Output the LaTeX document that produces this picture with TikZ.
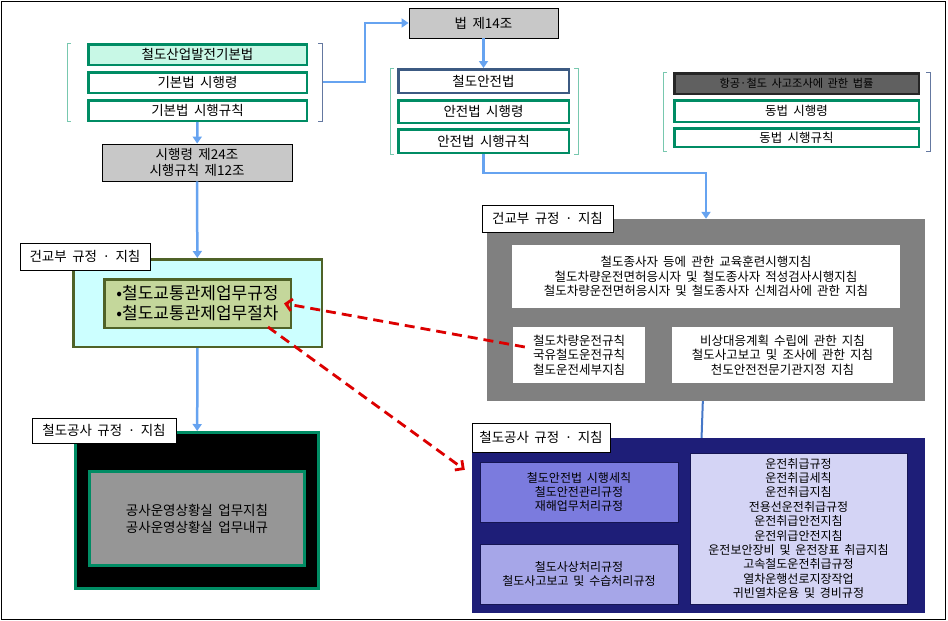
\documentclass[tikz,border=0pt]{standalone}
\usepackage{fontspec}
\setmainfont[WordSpace=1.8]{Noto Sans CJK KR}
\usetikzlibrary{arrows.meta,positioning}
\definecolor{lawgreen}{RGB}{0,140,100}
\definecolor{lawaqua}{RGB}{200,248,230}
\definecolor{lawsteel}{RGB}{60,90,130}
\definecolor{flowblue}{RGB}{102,163,240}
\definecolor{linkblue}{RGB}{70,120,200}
\definecolor{brkgreen}{RGB}{120,200,175}
\definecolor{brksteel}{RGB}{100,120,160}
\definecolor{notegray}{RGB}{200,200,200}
\definecolor{acclawgray}{RGB}{96,96,96}
\definecolor{molitcyan}{RGB}{204,255,255}
\definecolor{oliveedge}{RGB}{79,98,40}
\definecolor{olivefill}{RGB}{196,215,155}
\definecolor{guidegray}{RGB}{128,128,128}
\definecolor{korailgray}{RGB}{150,150,150}
\definecolor{korailnavy}{RGB}{30,30,120}
\definecolor{korailmid}{RGB}{123,123,222}
\definecolor{korailsoft}{RGB}{166,166,232}
\definecolor{koraillight}{RGB}{212,212,245}
\definecolor{linkred}{RGB}{220,0,0}
\tikzset{dims/.style 2 args={minimum width=#1pt, minimum height=#2pt}}

\begin{document}
\begin{tikzpicture}[
    x=1pt, y=-1pt,
    lawbox/.style={draw=lawgreen, line width=2.5pt, fill=white, inner sep=0pt, align=center, font=\fontsize{13.5}{15}\selectfont},
    notebox/.style={draw, line width=0.8pt, fill=notegray, inner sep=0pt, align=center, font=\fontsize{13.5}{16}\selectfont},
    tagbox/.style={draw, line width=0.8pt, fill=white, inner sep=0pt, align=center, font=\fontsize{13.5}{15}\selectfont},
    guidebox/.style={fill=white, inner sep=0pt, align=center, font=\fontsize{12.5}{14.5}\selectfont},
    korailsub/.style={draw=korailnavy!70!black, line width=0.8pt, inner sep=0pt, align=center, font=\fontsize{12}{14.4}\selectfont},
    lbrk/.style={brkgreen, line width=0.8pt},
    rbrk/.style={brksteel, line width=0.8pt},
    flow/.style={-{Triangle[length=7pt,width=9pt]}, flowblue, line width=2.5pt},
    link/.style={linkblue, line width=2pt},
    cite/.style={-{Straight Barb[length=6pt,width=12pt]}, linkred, line width=2.8pt, dash pattern=on 10pt off 6pt}
]
    \useasboundingbox (0,0) rectangle (948,621);
    \draw[line width=1pt] (1,1) rectangle (945,619);

    % Laws
    \node[lawbox, fill=lawaqua, dims={218.5}{20.5}] (basicLaw) at (197.5,54.5) {철도산업발전기본법};
    \node[lawbox, dims={218.5}{20.5}] (basicDecree) at (197.5,82.5) {기본법 시행령};
    \node[lawbox, dims={218.5}{20.5}] (basicRule) at (197.5,110.5) {기본법 시행규칙};
    \node[notebox, dims={190}{37}] (art24) at (197,162.5) {시행령 제24조\\시행규칙 제12조};

    \node[notebox, dims={149}{30}] (art14) at (483.5,23) {법 제14조};
    \node[lawbox, draw=lawsteel, dims={170.5}{23.5}] (safetyLaw) at (483.5,81) {철도안전법};
    \node[lawbox, dims={170.5}{22.5}] (safetyDecree) at (483.5,111.5) {안전법 시행령};
    \node[lawbox, dims={170.5}{23.5}] (safetyRule) at (483.5,141) {안전법 시행규칙};

    \node[lawbox, draw=black!85, fill=acclawgray, dims={244.5}{20.5}, font=\fontsize{11.2}{13}\selectfont] (accLaw) at (796.5,83.5) {항공·철도 사고조사에 관한 법률};
    \node[lawbox, dims={244.5}{21.5}, font=\fontsize{12.5}{14}\selectfont] (accDecree) at (796.5,111) {동법 시행령};
    \node[lawbox, dims={244.5}{18.5}, font=\fontsize{12.5}{14}\selectfont] (accRule) at (796.5,137.5) {동법 시행규칙};

    % Brackets
    \draw[lbrk] (71,43) -- (67,43) -- (67,121) -- (71,121);
    \draw[rbrk] (318,43) -- (322,43) -- (322,121) -- (318,121);
    \draw[lbrk] (394,68) -- (390,68) -- (390,154) -- (394,154);
    \draw[lbrk] (574,68) -- (578,68) -- (578,154) -- (574,154);
    \draw[lbrk] (667,72) -- (663,72) -- (663,151) -- (667,151);
    \draw[rbrk] (926,72) -- (930,72) -- (930,151) -- (926,151);
    \coordinate (basicOut) at (323,82);

    % MOLIT (left)
    \node[draw=oliveedge, line width=2.5pt, fill=molitcyan, dims={248.5}{87.5}] (molitBox) at (197.5,303) {};
    \node[draw=oliveedge, line width=2.5pt, fill=olivefill, dims={186.5}{48.5}, inner sep=0pt, align=left, font=\fontsize{17}{20}\selectfont] (molitInner) at (197.5,303.5) {•철도교통관제업무규정\\•철도교통관제업무절차};
    \node[tagbox, dims={130}{27}] (molitLabel) at (85,256.5) {건교부 규정 · 지침};

    % KORAIL (left)
    \node[draw=lawgreen, line width=3pt, fill=black, dims={243}{156}] (korailBox) at (197,510.5) {};
    \node[draw=lawgreen, line width=3pt, fill=korailgray, dims={215}{94}, inner sep=0pt, align=center, font=\fontsize{13.5}{17}\selectfont] (korailInner) at (197,518.5) {공사운영상황실 업무지침\\공사운영상황실 업무내규};
    \node[tagbox, dims={144}{25}] (korailLabel) at (104,430.5) {철도공사 규정 · 지침};

    % MOLIT (right)
    \node[fill=guidegray, dims={438}{182}] (molitRBox) at (706,310) {};
    \node[guidebox, dims={388}{63}] (guideTop) at (706,276.5) {철도종사자 등에 관한 교육훈련시행지침\\철도차량운전면허응시자 및 철도종사자 적성검사시행지침\\철도차량운전면허응시자 및 철도종사자 신체검사에 관한 지침};
    \node[guidebox, dims={132}{56}] (guideLeft) at (579,355) {철도차량운전규칙\\국유철도운전규칙\\철도운전세부지침};
    \node[guidebox, dims={221}{56}] (guideRight) at (782.5,355) {비상대응계획 수립에 관한 지침\\철도사고보고 및 조사에 관한 지침\\천도안전전문기관지정 지침};
    \node[tagbox, dims={131}{27}] (molitRLabel) at (547.5,218.5) {건교부 규정 · 지침};

    % KORAIL (right)
    \node[fill=korailnavy, dims={453}{175}] (korailRBox) at (698.5,525.5) {};
    \node[korailsub, fill=korailmid, dims={198}{60}] (korailA) at (579,492) {철도안전법 시행세칙\\철도안전관리규정\\재해업무처리규정};
    \node[korailsub, fill=korailsoft, dims={198}{60}] (korailB) at (579,574) {철도사상처리규정\\철도사고보고 및 수습처리규정};
    \node[korailsub, fill=koraillight, dims={217}{151}] (korailC) at (798.5,528.5) {운전취급규정\\운전취급세칙\\운전취급지침\\전용선운전취급규정\\운전취급안전지침\\운전위급안전지침\\운전보안장비 및 운전장표 취급지침\\고속철도운전취급규정\\열차운행선로지장작업\\귀빈열차운용 및 경비규정};
    \node[tagbox, dims={138}{29}] (korailRLabel) at (541,437.5) {철도공사 규정 · 지침};

    % Arrows
    \draw[flow] (basicRule) -- (art24);
    \draw[flow] (art24) -- (molitBox);
    \draw[flow] (molitBox) -- (korailBox);
    \draw[flow] (basicOut) -- ++(42,0) |- (art14);
    \draw[flow] (art14) -- (safetyLaw);
    \draw[flow] (safetyRule) -- ++(0,32) -| (molitRBox);
    \draw[link] (molitRBox) -- (korailRBox);
    \draw[cite] ([xshift=12pt,yshift=8pt]guideLeft.west) -- ([xshift=-8pt]molitInner.east);
    \draw[cite] ([xshift=-24pt,yshift=2pt]molitInner.south east) -- ([xshift=-7pt,yshift=-32pt]korailRBox.north west);
\end{tikzpicture}
\end{document}
